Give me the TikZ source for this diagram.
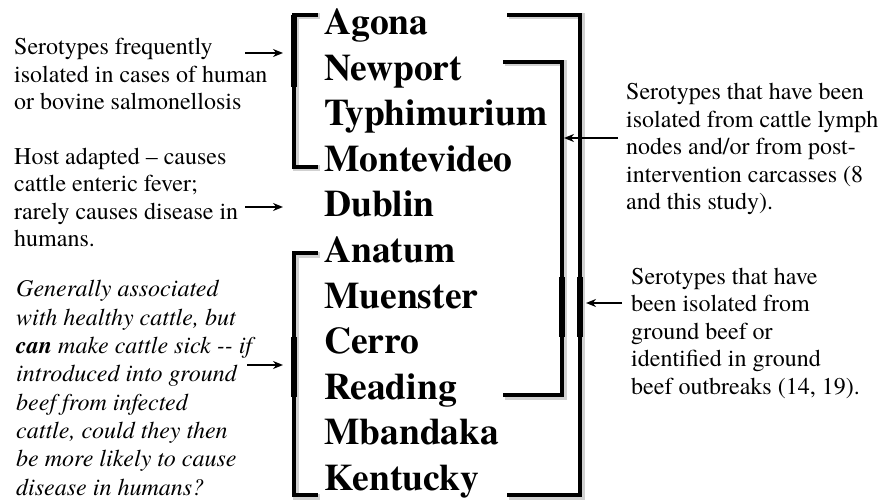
\documentclass[tikz,border=0pt]{standalone}
\usepackage{fontspec}
\setmainfont{TeX Gyre Termes}
\usetikzlibrary{positioning, arrows.meta}

\tikzset{
  sero/.style={font=\fontsize{37.5}{45}\selectfont\bfseries, text width=240pt, align=left,
    inner sep=0pt, text height=26pt, text depth=8pt},
  note/.style={font=\fontsize{24}{27.5}\selectfont, align=left, inner sep=0pt, anchor=base west},
  brk/.style={line width=4pt, line join=miter,
    preaction={draw=black!18, line width=6pt, transform canvas={xshift=1.5pt, yshift=-1.5pt}}},
  brkthick/.style={line width=6.5pt},
  arr/.style={line width=2.4pt, -{Stealth[length=10pt, width=8pt]}},
}

\begin{document}
\begin{tikzpicture}[x=1pt, y=-1pt, node distance=45.5pt, on grid]
        \useasboundingbox (0,0) rectangle (882,502);

        % serotype column
        \node[sero, anchor=west] (agona) at (324,26) {Agona};
        \node[sero] (newport)    [below=of agona]      {Newport};
        \node[sero] (typhi)      [below=of newport]    {Typhimurium};
        \node[sero] (montevideo) [below=of typhi]      {Montevideo};
        \node[sero] (dublin)     [below=of montevideo] {Dublin};
        \node[sero] (anatum)     [below=of dublin]     {Anatum};
        \node[sero] (muenster)   [below=of anatum]     {Muenster};
        \node[sero] (cerro)      [below=of muenster]   {Cerro};
        \node[sero] (reading)    [below=of cerro]      {Reading};
        \node[sero] (mbandaka)   [below=of reading]    {Mbandaka};
        \node[sero] (kentucky)   [below=of mbandaka]   {Kentucky};

        % notes (placed by the baseline of their last line)
        \node[note] (human) at (14,110) {Serotypes frequently\\isolated in cases of human\\or bovine salmonellosis};
        \node[note] (host) at (14,247) {Host adapted -- causes\\cattle enteric fever;\\rarely causes disease in\\humans.};
        \node[note, font=\fontsize{24}{28.3}\selectfont\itshape] (healthy) at (16,495)
          {Generally associated\\with healthy cattle, but\\\textbf{can} make cattle sick {-}{-} if\\introduced into ground\\beef from infected\\cattle, could they then\\be more likely to cause\\disease in humans?};
        \node[note] (lymph) at (626,210) {Serotypes that have been\\isolated from cattle lymph\\nodes and/or from post-\\intervention carcasses (8\\and this study).};
        \node[note] (beef) at (631,394) {Serotypes that have\\been isolated from\\ground beef or\\identified in ground\\beef outbreaks (14, 19).};

        % brackets
        \draw[brk] ([shift={(-6,-11)}]agona.west) -- ++(-24,0) |- ([shift={(-6,4.5)}]montevideo.west);
        \draw[brk] ([shift={(-6,0)}]anatum.west) -- ++(-24,0) |- ([shift={(-6,14)}]kentucky.west);
        \draw[brk] ([shift={(183,-11)}]agona.west) -- ++(73,0) |- ([shift={(183,14)}]kentucky.west);
        \draw[brk] ([shift={(179,-9.5)}]newport.west) -- ++(59,0) |- ([shift={(179,5)}]reading.west);

        \draw[brkthick] ([shift={(-30,-11)}]agona.west) -- ++(0,72);
        \draw[brkthick] ([shift={(-30,83.5)}]anatum.west) -- ++(0,60);
        \draw[brkthick] ([shift={(238,-22)}]muenster.west) -- ++(0,60);
        \draw[brkthick] ([shift={(256,-22)}]muenster.west) -- ++(0,60);

        % arrows
        \draw[arr] ([shift={(-79,27)}]agona.west) -- ([shift={(-41,27)}]agona.west);
        \draw[arr] ([shift={(-79,-1)}]dublin.west) -- ([shift={(-41,-1)}]dublin.west);
        \draw[arr] ([shift={(-77,20.5)}]cerro.west) -- ([shift={(-41,20.5)}]cerro.west);
        \draw[arr] ([shift={(-8,-72)}]lymph.base west) -- ([shift={(-62,-72)}]lymph.base west);
        \draw[arr] ([shift={(-9,-91)}]beef.base west) -- ([shift={(-45,-91)}]beef.base west);
\end{tikzpicture}
\end{document}
